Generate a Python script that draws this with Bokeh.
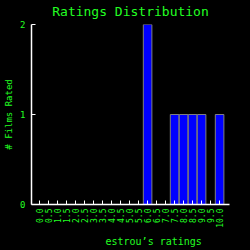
from math import pi
from bokeh.plotting import figure
from bokeh.models import FixedTicker, Range1d, Title
from bokeh.embed import file_html
from bokeh.resources import INLINE

ratings = ["0.0", "0.5", "1.0", "1.5", "2.0", "2.5", "3.0", "3.5", "4.0", "4.5",
           "5.0", "5.5", "6.0", "6.5", "7.0", "7.5", "8.0", "8.5", "9.0", "9.5", "10.0"]
counts = [0, 0, 0, 0, 0, 0, 0, 0, 0, 0,
          0, 0, 2, 0, 0, 1, 1, 1, 1, 0, 1]
title_text = "Ratings Distribution"
x_label = "estrou\u2019s ratings"
y_label = "# Films Rated"

GREEN = "#22ff22"
MONO = "DejaVu Sans Mono"

idx = list(range(len(ratings)))
bx = [i for i, c in zip(idx, counts) if c > 0]
bt = [c for c in counts if c > 0]

p = figure(width=250, height=250, output_backend="svg", toolbar_location=None,
           title=title_text,
           x_range=Range1d(-0.9, 21.1), y_range=Range1d(0, 2),
           min_border_left=31, min_border_right=21, min_border_top=24, min_border_bottom=46,
           background_fill_color="black", border_fill_color="black",
           outline_line_color=None)
p.styles = {"background-color": "black"}
p.grid.visible = False

p.title.align = "center"
p.title.vertical_align = "top"
p.title.text_color = GREEN
p.title.text_font = MONO
p.title.text_font_size = "13px"
p.title.text_font_style = "normal"
p.title.standoff = 7

p.vbar(x=bx, top=bt, bottom=0, width=0.95, fill_color="#0000ff", line_color="#808080", line_width=1)

for ax in (p.xaxis[0], p.yaxis[0]):
    ax.axis_line_color = "white"
    ax.axis_line_width = 1.5
    ax.major_tick_line_color = "white"
    ax.major_tick_in = 4
    ax.major_tick_out = 0
    ax.minor_tick_line_color = None
    ax.major_label_text_color = GREEN
    ax.major_label_text_font = MONO
    ax.major_label_text_font_size = "8px"
    ax.major_label_text_font_style = "normal"
    ax.axis_label_text_color = GREEN
    ax.axis_label_text_font = MONO
    ax.axis_label_text_font_size = "9px"
    ax.axis_label_text_font_style = "normal"

p.xaxis.ticker = FixedTicker(ticks=idx)
p.xaxis.major_label_overrides = {i: r for i, r in zip(idx, ratings)}
p.xaxis.major_label_orientation = pi / 2
p.xaxis.major_label_standoff = 4
p.yaxis.ticker = FixedTicker(ticks=[0, 1, 2])
p.yaxis.major_label_standoff = 6
p.yaxis.major_label_text_font_size = "9px"
p.yaxis.axis_label = y_label
p.yaxis.axis_label_standoff = 3

xt = Title(text=x_label, align="left", offset=74, text_color=GREEN, text_font=MONO,
           text_font_size="10px", text_font_style="normal", standoff=6)
p.add_layout(xt, "below")

open("out.html", "w").write(file_html(p, INLINE))
